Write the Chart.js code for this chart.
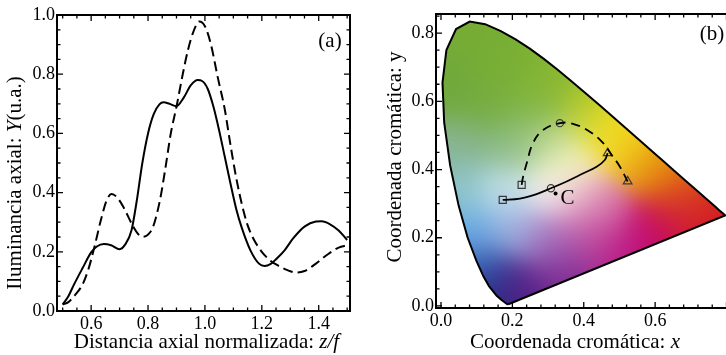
<!doctype html>
<html lang="es">
<head>
  <meta charset="UTF-8" />
  <script src="https://cdn.jsdelivr.net/npm/chart.js@4"></script>
  <style>
    html, body { margin: 0; padding: 0; background: #fff; overflow: hidden; }
    body { width: 726px; height: 355px; position: relative; }
    #panelA { position: absolute; left: 0; top: 0; width: 363px; height: 355px; }
    #panelB { position: absolute; left: 363px; top: 0; width: 385px; height: 355px; }
  </style>
</head>
<body>
  <div id="panelA"><canvas id="chartA"></canvas></div>
  <div id="panelB"><canvas id="chartB"></canvas></div>

  <script>
    // ---- panel (a): axial illuminance vs normalized distance
    const solidZ = [0.50, 0.52, 0.54, 0.57, 0.60, 0.62, 0.645, 0.67, 0.70, 0.72, 0.742, 0.76, 0.78, 0.80, 0.82, 0.84, 0.855, 0.875, 0.90, 0.925, 0.95, 0.975, 0.99, 1.01, 1.03, 1.05, 1.07, 1.09, 1.11, 1.13, 1.16, 1.19, 1.21, 1.23, 1.25, 1.28, 1.31, 1.35, 1.39, 1.41, 1.44, 1.47, 1.50];
    const solidY = [0.022, 0.05, 0.09, 0.145, 0.198, 0.218, 0.226, 0.222, 0.209, 0.225, 0.273, 0.37, 0.50, 0.60, 0.665, 0.698, 0.705, 0.70, 0.692, 0.72, 0.762, 0.78, 0.777, 0.75, 0.69, 0.61, 0.52, 0.43, 0.345, 0.28, 0.205, 0.16, 0.152, 0.158, 0.175, 0.205, 0.245, 0.285, 0.302, 0.303, 0.293, 0.272, 0.24];
    const dashedZ = [0.50, 0.52, 0.54, 0.57, 0.59, 0.61, 0.635, 0.655, 0.672, 0.69, 0.713, 0.748, 0.765, 0.783, 0.80, 0.818, 0.842, 0.86, 0.88, 0.90, 0.92, 0.94, 0.96, 0.98, 1.00, 1.02, 1.045, 1.07, 1.09, 1.11, 1.13, 1.15, 1.17, 1.20, 1.23, 1.26, 1.29, 1.32, 1.35, 1.39, 1.43, 1.47, 1.50];
    const dashedY = [0.022, 0.03, 0.05, 0.09, 0.14, 0.21, 0.31, 0.375, 0.395, 0.385, 0.352, 0.285, 0.26, 0.251, 0.258, 0.285, 0.375, 0.476, 0.60, 0.69, 0.79, 0.88, 0.945, 0.978, 0.962, 0.905, 0.79, 0.68, 0.56, 0.45, 0.36, 0.29, 0.245, 0.20, 0.17, 0.152, 0.138, 0.13, 0.135, 0.16, 0.19, 0.214, 0.222];
    const axialTicksX = [0.6, 0.8, 1.0, 1.2, 1.4];
    const axialTicksY = [0.0, 0.2, 0.4, 0.6, 0.8, 1.0];

    // ---- panel (b): chromaticity diagram
    const locusX = [0.1887, 0.1858, 0.1782, 0.1698, 0.1561, 0.1345, 0.1188, 0.0990, 0.0745, 0.0492, 0.0255, 0.0089, 0.0042, 0.0151, 0.0422, 0.0805, 0.1238, 0.1677, 0.2091, 0.2489, 0.2881, 0.3269, 0.3656, 0.4044, 0.4430, 0.4814, 0.5190, 0.5556, 0.5906, 0.6235, 0.6535, 0.6797, 0.7217, 0.7496, 0.7674, 0.7794, 0.7913, 0.7964, 0.1887];
    const locusY = [0.0050, 0.0051, 0.0109, 0.0177, 0.0297, 0.0578, 0.0868, 0.1327, 0.2007, 0.2950, 0.4127, 0.5384, 0.6548, 0.7502, 0.8120, 0.8338, 0.8262, 0.8059, 0.7816, 0.7543, 0.7243, 0.6923, 0.6589, 0.6245, 0.5896, 0.5547, 0.5202, 0.4866, 0.4544, 0.4242, 0.3965, 0.3725, 0.3340, 0.3083, 0.2920, 0.2809, 0.2700, 0.2653, 0.0050];
    const pathSolidX = [0.173, 0.221, 0.268, 0.308, 0.352, 0.399, 0.436, 0.459, 0.467];
    const pathSolidY = [0.311, 0.315, 0.328, 0.345, 0.365, 0.389, 0.408, 0.428, 0.448];
    const pathDashedX = [0.226, 0.230, 0.240, 0.258, 0.286, 0.333, 0.370, 0.417, 0.454, 0.478, 0.501, 0.523];
    const pathDashedY = [0.355, 0.379, 0.418, 0.478, 0.516, 0.536, 0.534, 0.511, 0.478, 0.443, 0.409, 0.365];
    const startX = [0.173, 0.226], startY = [0.311, 0.355];
    const midX = [0.308, 0.333], midY = [0.345, 0.536];
    const endX = [0.467, 0.523], endY = [0.448, 0.365];
    const refLabel = "C", refX = [0.321], refY = [0.330];
    const chromaTicksX = [0.0, 0.2, 0.4, 0.6];
    const chromaTicksY = [0.0, 0.2, 0.4, 0.6, 0.8];

    // colours seen inside the horseshoe: [x, y, r, g, b]
    const gamutPalette = [
      [0.08, 0.80, 118, 172, 52], [0.02, 0.65, 112, 168, 60], [0.18, 0.70, 120, 175, 52],
      [0.30, 0.65, 135, 182, 50], [0.12, 0.58, 118, 172, 62], [0.25, 0.57, 125, 180, 70],
      [0.40, 0.58, 175, 200, 45], [0.47, 0.52, 245, 228, 35], [0.52, 0.47, 240, 200, 25],
      [0.60, 0.40, 230, 145, 15], [0.68, 0.33, 225, 95, 20], [0.75, 0.275, 210, 25, 35],
      [0.66, 0.26, 205, 20, 60], [0.58, 0.21, 195, 10, 115], [0.48, 0.17, 185, 25, 135],
      [0.45, 0.27, 215, 110, 165], [0.39, 0.31, 230, 175, 200], [0.32, 0.34, 250, 248, 245],
      [0.36, 0.42, 248, 245, 185], [0.30, 0.48, 185, 215, 150], [0.20, 0.47, 140, 188, 135],
      [0.06, 0.47, 135, 180, 145], [0.05, 0.35, 140, 195, 200], [0.18, 0.34, 195, 225, 235],
      [0.08, 0.22, 105, 175, 230], [0.20, 0.22, 160, 180, 225], [0.10, 0.12, 60, 110, 195],
      [0.14, 0.06, 25, 40, 125], [0.22, 0.06, 95, 30, 135], [0.35, 0.11, 125, 40, 145],
      [0.30, 0.19, 165, 120, 195], [0.40, 0.20, 190, 90, 170]
    ];

    const serif = '"Liberation Serif", "Times New Roman", serif';
    Chart.defaults.font.family = serif;
    Chart.defaults.color = "#000";

    const pts = (xs, ys) => xs.map((x, i) => ({ x: x, y: ys[i] }));

    function textParts(ctx, parts, cx, cy, rot, size) {
      ctx.save();
      ctx.translate(cx, cy);
      ctx.rotate(rot);
      ctx.textBaseline = "middle";
      ctx.textAlign = "left";
      let w = 0;
      parts.forEach((p) => { ctx.font = (p.i ? "italic " : "") + size + "px " + serif; w += ctx.measureText(p.t).width; });
      let x = -w / 2;
      parts.forEach((p) => {
        ctx.font = (p.i ? "italic " : "") + size + "px " + serif;
        ctx.fillText(p.t, x, 0);
        x += ctx.measureText(p.t).width;
      });
      ctx.restore();
    }

    // frame with inward ticks on all four sides
    const framePlugin = {
      id: "frame",
      afterDatasetsDraw(chart, args, o) {
        const { ctx, chartArea: a, scales } = chart;
        ctx.save();
        ctx.strokeStyle = "#000";
        ctx.lineWidth = 1.3;
        [["x", o.minorX, o.majorX], ["y", o.minorY, o.majorY]].forEach(([k, minor, major]) => {
          const s = scales[k];
          const ratio = Math.round(major / minor);
          for (let n = Math.ceil(s.min / minor - 1e-6); n * minor <= s.max + 1e-9; n++) {
            const len = n % ratio === 0 ? 6 : 3.5;
            const p = s.getPixelForValue(n * minor);
            ctx.beginPath();
            if (k === "x") {
              ctx.moveTo(p, a.bottom); ctx.lineTo(p, a.bottom - len);
              ctx.moveTo(p, a.top); ctx.lineTo(p, a.top + len);
            } else {
              ctx.moveTo(a.left, p); ctx.lineTo(a.left + len, p);
              ctx.moveTo(a.right, p); ctx.lineTo(a.right - len, p);
            }
            ctx.stroke();
          }
        });
        ctx.lineWidth = 2;
        ctx.strokeRect(a.left, a.top, a.right - a.left, a.bottom - a.top);
        ctx.restore();
      }
    };

    const titlePlugin = {
      id: "titles",
      afterDraw(chart, args, o) {
        const { ctx, chartArea: a } = chart;
        ctx.save();
        ctx.fillStyle = "#000";
        textParts(ctx, o.x, (a.left + a.right) / 2 + o.xdx, a.bottom + o.xdy, 0, o.size);
        textParts(ctx, o.y, o.ydx, (a.top + a.bottom) / 2 + o.ydy, -Math.PI / 2, o.size);
        textParts(ctx, [{ t: o.panel }], a.right + o.pdx, a.top + o.pdy, 0, o.size);
        if (o.ref != null) {
          const el = chart.getDatasetMeta(o.ref).data[0];
          textParts(ctx, [{ t: refLabel }], el.x + 12, el.y + 5, 0, o.size);
        }
        ctx.restore();
      }
    };

    // colour fill of the chromaticity horseshoe, clipped to the locus
    const gamutPlugin = {
      id: "gamut",
      beforeDatasetsDraw(chart, args, o) {
        const { ctx, chartArea: a, scales: { x, y } } = chart;
        const locus = chart.getDatasetMeta(0).data;
        const w = Math.ceil(a.right - a.left), h = Math.ceil(a.bottom - a.top);
        const off = document.createElement("canvas");
        off.width = w; off.height = h;
        const octx = off.getContext("2d");
        const img = octx.createImageData(w, h);
        const s2 = 2 * o.sigma * o.sigma;
        for (let j = 0; j < h; j++) {
          const cy = y.getValueForPixel(a.top + j + 0.5);
          for (let i = 0; i < w; i++) {
            const cx = x.getValueForPixel(a.left + i + 0.5);
            let sw = 1e-12, r = 0, g = 0, b = 0;
            for (const p of gamutPalette) {
              const dx = cx - p[0], dy = cy - p[1];
              const wt = Math.exp(-(dx * dx + dy * dy) / s2);
              sw += wt; r += wt * p[2]; g += wt * p[3]; b += wt * p[4];
            }
            const k = (j * w + i) * 4;
            img.data[k] = r / sw; img.data[k + 1] = g / sw; img.data[k + 2] = b / sw; img.data[k + 3] = 255;
          }
        }
        octx.putImageData(img, 0, 0);
        ctx.save();
        ctx.beginPath();
        locus.forEach((p, i) => (i ? ctx.lineTo(p.x, p.y) : ctx.moveTo(p.x, p.y)));
        ctx.closePath();
        ctx.clip();
        ctx.drawImage(off, a.left, a.top);
        ctx.restore();
      }
    };

    const tickFont = { family: serif, size: 18 };

    function fixedAxis(min, max, values, size, pad) {
      return {
        type: "linear",
        min: min,
        max: max,
        grid: { display: false, drawTicks: false },
        border: { display: false },
        afterBuildTicks: (s) => { s.ticks = values.map((v) => ({ value: v })); },
        afterFit: (s) => { if (s.isHorizontal()) s.height = size; else s.width = size; },
        ticks: { font: tickFont, padding: pad, color: "#000", callback: (v) => Number(v).toFixed(1) }
      };
    }

    new Chart(document.getElementById("chartA"), {
      type: "scatter",
      data: {
        datasets: [
          { label: "continua", data: pts(solidZ, solidY), showLine: true, borderColor: "#000", borderWidth: 2, pointRadius: 0, cubicInterpolationMode: "monotone" },
          { label: "discontinua", data: pts(dashedZ, dashedY), showLine: true, borderColor: "#000", borderWidth: 2, borderDash: [10, 5], pointRadius: 0, cubicInterpolationMode: "monotone" }
        ]
      },
      options: {
        responsive: true,
        maintainAspectRatio: false,
        animation: false,
        layout: { padding: { top: 15, right: 13, left: 0, bottom: 0 } },
        scales: {
          x: fixedAxis(0.48, 1.51, axialTicksX, 44, 2),
          y: fixedAxis(0, 1, axialTicksY, 57, 2)
        },
        plugins: {
          legend: { display: false },
          tooltip: { enabled: false },
          frame: { minorX: 0.05, majorX: 0.2, minorY: 0.05, majorY: 0.2 },
          titles: {
            size: 21,
            x: [{ t: "Distancia axial normalizada: " }, { t: "z/f", i: true }],
            xdx: 3, xdy: 31,
            y: [{ t: "Iluminancia axial: " }, { t: "Y", i: true }, { t: "(u.a.)" }],
            ydx: 15, ydy: 20,
            panel: "(a)", pdx: -20, pdy: 26
          }
        }
      },
      plugins: [framePlugin, titlePlugin]
    });

    const marker = (label, xs, ys, style, r) => ({
      label: label, data: pts(xs, ys), pointStyle: style, pointRadius: r,
      borderColor: "#3a3a3a", borderWidth: 1.2, backgroundColor: "rgba(0,0,0,0)"
    });

    new Chart(document.getElementById("chartB"), {
      type: "scatter",
      data: {
        datasets: [
          { label: "locus", data: pts(locusX, locusY), showLine: true, borderColor: "#000", borderWidth: 2, pointRadius: 0, tension: 0 },
          { label: "continua", data: pts(pathSolidX, pathSolidY), showLine: true, borderColor: "#000", borderWidth: 1.8, pointRadius: 0, tension: 0.4 },
          { label: "discontinua", data: pts(pathDashedX, pathDashedY), showLine: true, borderColor: "#000", borderWidth: 1.8, borderDash: [9, 6], pointRadius: 0, tension: 0.4 },
          marker("inicio", startX, startY, "rect", 5),
          marker("medio", midX, midY, "circle", 3.6),
          marker("final", endX, endY, "triangle", 5),
          { label: "C", data: pts(refX, refY), pointRadius: 2, backgroundColor: "#000", borderWidth: 0 }
        ]
      },
      options: {
        responsive: true,
        maintainAspectRatio: false,
        animation: false,
        layout: { padding: { top: 14, right: 14, left: 0, bottom: 0 } },
        scales: {
          x: fixedAxis(-0.014, 0.821, chromaTicksX, 47, 2),
          y: fixedAxis(-0.006, 0.856, chromaTicksY, 73, 2)
        },
        plugins: {
          legend: { display: false },
          tooltip: { enabled: false },
          gamut: { sigma: 0.06 },
          frame: { minorX: 0.04, majorX: 0.2, minorY: 0.05, majorY: 0.2 },
          titles: {
            size: 21,
            x: [{ t: "Coordenada cromática: " }, { t: "x", i: true }],
            xdx: -10, xdy: 34,
            y: [{ t: "Coordenada cromática: y" }],
            ydx: 32, ydy: -4,
            panel: "(b)", pdx: -22, pdy: 20,
            ref: 6
          }
        }
      },
      plugins: [gamutPlugin, framePlugin, titlePlugin]
    });
  </script>
</body>
</html>
